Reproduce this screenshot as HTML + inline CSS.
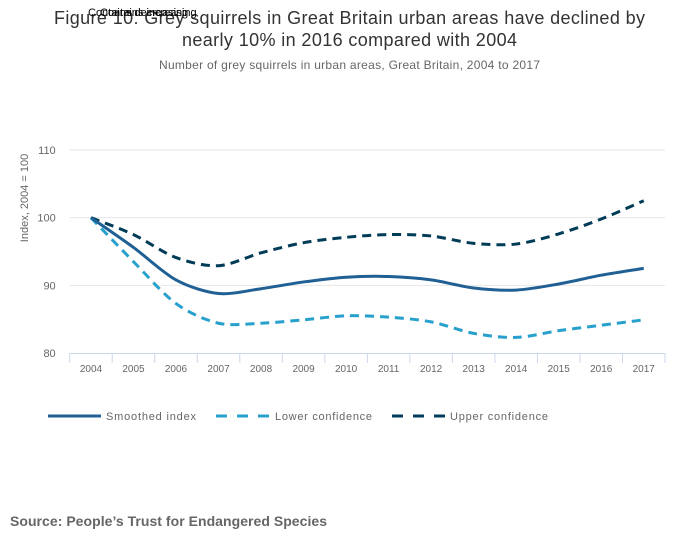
<!DOCTYPE html>
<html><head><meta charset="utf-8"><style>
body{margin:0;background:#fff;font-family:"Liberation Sans",sans-serif;}
svg text{font-family:"Liberation Sans",sans-serif;}
</style></head><body>
<svg width="700" height="549">
<rect width="700" height="549" fill="#fff"/>
<text x="54" y="24" font-size="18" fill="#333" textLength="591" lengthAdjust="spacing">Figure 10: Grey squirrels in Great Britain urban areas have declined by</text>
<text x="182" y="46" font-size="18" fill="#333" textLength="335" lengthAdjust="spacing">nearly 10% in 2016 compared with 2004</text>
<text x="88" y="16" font-size="11" fill="#000">Contains decreasing</text>
<text x="100" y="16" font-size="11" fill="#000">Contains increasing</text>
<text x="159" y="69" font-size="12" fill="#666" textLength="381" lengthAdjust="spacing">Number of grey squirrels in urban areas, Great Britain, 2004 to 2017</text>
<g id="grid"></g>
<g id="axes"></g>
<g id="series"></g>
<text transform="translate(28,198) rotate(-90)" text-anchor="middle" font-size="11" fill="#666">Index, 2004 = 100</text>
<g>
<g><line x1="48" y1="416" x2="101" y2="416" stroke="#206095" stroke-width="3"/><text x="106" y="420" font-size="11" fill="#666" textLength="90" lengthAdjust="spacing">Smoothed index</text></g>
<g><line x1="216" y1="416" x2="269" y2="416" stroke="#27a0cc" stroke-width="3" stroke-dasharray="11,10"/><text x="275" y="420" font-size="11" fill="#666" textLength="97" lengthAdjust="spacing">Lower confidence</text></g>
<g><line x1="392" y1="416" x2="445" y2="416" stroke="#003c57" stroke-width="3" stroke-dasharray="11,10"/><text x="450" y="420" font-size="11" fill="#666" textLength="98" lengthAdjust="spacing">Upper confidence</text></g>
</g>
<text x="10" y="526" font-size="14" font-weight="bold" fill="#666" textLength="317" lengthAdjust="spacing">Source: People’s Trust for Endangered Species</text>
</svg>
<script>
const categories=["2004","2005","2006","2007","2008","2009","2010","2011","2012","2013","2014","2015","2016","2017"];
const smoothed=[100,95.6,90.8,88.8,89.5,90.5,91.2,91.3,90.8,89.6,89.3,90.2,91.5,92.5];
const lower=[100,93.5,87.3,84.4,84.4,84.9,85.5,85.3,84.6,82.9,82.3,83.3,84.1,84.9];
const upper=[100,97.5,94.1,92.9,94.8,96.3,97.1,97.5,97.3,96.2,96.1,97.6,99.8,102.5];
const yTicks=[80,90,100,110];
const NS="http://www.w3.org/2000/svg";
const L=69.7,R=665,T=150,B=353,yMin=80,yMax=110;
const bw=(R-L)/categories.length;
const x=i=>L+bw*(i+0.5);
const y=v=>B-(v-yMin)/(yMax-yMin)*(B-T);
function mk(tag,attrs,parent){const e=document.createElementNS(NS,tag);for(const k in attrs)e.setAttribute(k,attrs[k]);parent.appendChild(e);return e;}
const grid=document.getElementById('grid'),axes=document.getElementById('axes'),ser=document.getElementById('series');
yTicks.forEach(t=>{
  if(t!==yMin){const g=mk('line',{x1:L,x2:R,y1:y(t),y2:y(t),stroke:'#e6e6e6'},grid);
  
  }
  const tx=mk('text',{x:L-14,y:y(t)+4,'text-anchor':'end','font-size':11,fill:'#666'},axes);tx.textContent=t;
  
  
});
const ax=mk('line',{x1:L,x2:R,y1:B+0.5,y2:B+0.5,stroke:'#ccd6eb'},axes);


for(let i=0;i<=categories.length;i++){mk('line',{x1:L+bw*i,x2:L+bw*i,y1:B,y2:B+10,stroke:'#ccd6eb'},axes);}
categories.forEach((c,i)=>{const t=mk('text',{x:x(i),y:B+19,'text-anchor':'middle','font-size':10,fill:'#666'},axes);t.textContent=c;
  
  });
function path(vals){
  const p=vals.map((v,i)=>[x(i),y(v)]);let d='M'+p[0][0]+','+p[0][1];
  for(let i=0;i<p.length-1;i++){const p0=p[Math.max(0,i-1)],p1=p[i],p2=p[i+1],p3=p[Math.min(p.length-1,i+2)];const k=1/6*0.9;
    d+=' C'+(p1[0]+(p2[0]-p0[0])*k)+','+(p1[1]+(p2[1]-p0[1])*k)+' '+(p2[0]-(p3[0]-p1[0])*k)+','+(p2[1]-(p3[1]-p1[1])*k)+' '+p2[0]+','+p2[1];}
  return d;}
const s1=mk('path',{d:path(lower),fill:'none',stroke:'#27a0cc','stroke-width':3,'stroke-dasharray':'9,6'},ser);


const s2=mk('path',{d:path(upper),fill:'none',stroke:'#003c57','stroke-width':3,'stroke-dasharray':'9,6'},ser);


const s3=mk('path',{d:path(smoothed),fill:'none',stroke:'#206095','stroke-width':3},ser);


</script>
</body></html>
